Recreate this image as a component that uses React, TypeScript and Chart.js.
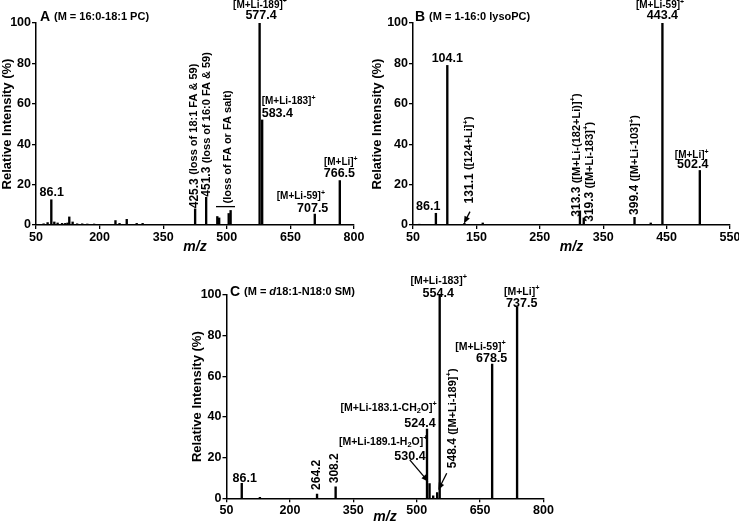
import React, { useEffect, useRef } from "react";
import { Chart, registerables } from "chart.js";
Chart.register(...registerables);

const FONT = '"Liberation Sans", Arial, Helvetica, sans-serif';

// ---------- data ----------
const yTicks = [0, 20, 40, 60, 80, 100];

// Panel A: 16:0-18:1 PC
const aTicksX = [50, 200, 350, 500, 650, 800];
const aMz = [68, 77.4, 86.1, 93.2, 101, 111.5, 119, 124.4, 128.5, 136.4, 147, 159, 171, 187, 237.4, 247, 264, 287.5, 301.5, 425.3, 451.3, 477.6, 482, 504.5, 509, 577.4, 583.4, 707.5, 766.5];
const aInt = [0.6, 1.2, 12.5, 1.5, 1, 0.8, 0.8, 1, 4, 1.5, 0.6, 0.6, 0.5, 0.5, 2.2, 0.8, 2.8, 0.8, 0.8, 8, 13.7, 4.2, 3.5, 5.7, 7.2, 100, 52, 5.4, 22];

// Panel B: 1-16:0 lysoPC
const bTicksX = [50, 150, 250, 350, 450, 550];
const bMz = [60, 86.1, 104.1, 131.1, 160, 313.3, 319.3, 399.4, 425, 443.4, 502.4];
const bInt = [0.4, 5.8, 79, 0.8, 1, 7, 3.5, 3.8, 1, 100, 27];

// Panel C: d18:1-N18:0 SM
const cTicksX = [50, 200, 350, 500, 650, 800];
const cMz = [86.1, 129, 264.2, 308.2, 524.4, 530.4, 539, 548.4, 554.4, 678.5, 737.5];
const cInt = [7.4, 0.5, 2.1, 5.7, 34, 7.3, 1.2, 2.8, 100, 66, 94.2];

type Part = [string, number];
type Ann = { x: number; y: number; parts: Part[]; align?: CanvasTextAlign; rot?: boolean };
type Arrow = { x1: number; y1: number; x2: number; y2: number; head: boolean };

const aAnns: Ann[] = [
  { x: 59.4, y: 103.1, parts: [["A ", 14], ["(M = 16:0-18:1 PC)", 11]], align: "left" },
  { x: 578.3, y: 109, parts: [["[M+Li-189]^+", 10]], align: "center" },
  { x: 580.7, y: 103.6, parts: [["577.4", 12.5]], align: "center" },
  { x: 582.3, y: 61.4, parts: [["[M+Li-183]^+", 10]], align: "left" },
  { x: 582.3, y: 55.3, parts: [["583.4", 12.5]], align: "left" },
  { x: 808.7, y: 31.0, parts: [["[M+Li]^+", 10]], align: "right" },
  { x: 802.4, y: 25.6, parts: [["766.5", 12.5]], align: "right" },
  { x: 731.6, y: 14.0, parts: [["[M+Li-59]^+", 10]], align: "right" },
  { x: 739.4, y: 8.3, parts: [["707.5", 12.5]], align: "right" },
  { x: 87, y: 16, parts: [["86.1", 12.5]], align: "center" },
  { x: 423.3, y: 8.3, parts: [["425.3 ", 12], ["(loss of 18:1 FA & 59)", 11]], rot: true },
  { x: 452.6, y: 14.0, parts: [["451.3 ", 12], ["(loss of 16:0 FA & 59)", 11]], rot: true },
  { x: 502.1, y: 10.7, parts: [["(loss of FA or FA salt)", 11]], rot: true },
];
const aArrows: Arrow[] = [{ x1: 474.5, y1: 9.1, x2: 519.3, y2: 9.1, head: false }];

const bAnns: Ann[] = [
  { x: 53.2, y: 103.1, parts: [["B ", 14], ["(M = 1-16:0 lysoPC)", 11]], align: "left" },
  { x: 439.6, y: 108.9, parts: [["[M+Li-59]^+", 10]], align: "center" },
  { x: 443.4, y: 103.6, parts: [["443.4", 12.5]], align: "center" },
  { x: 104.1, y: 82.5, parts: [["104.1", 12.5]], align: "center" },
  { x: 74.1, y: 9.1, parts: [["86.1", 12.5]], align: "center" },
  { x: 138.8, y: 10.7, parts: [["131.1 ", 12], ["([124+Li]^+)", 11]], rot: true },
  { x: 308.2, y: 4.1, parts: [["313.3 ", 12], ["([M+Li-(182+Li)]^+)", 11]], rot: true },
  { x: 329.2, y: 1.6, parts: [["319.3 ", 12], ["([M+Li-183]^+)", 11]], rot: true },
  { x: 400.2, y: 5, parts: [["399.4 ", 12], ["([M+Li-103]^+)", 11]], rot: true },
  { x: 489.6, y: 34.7, parts: [["[M+Li]^+", 10]], align: "center" },
  { x: 491.2, y: 29.7, parts: [["502.4", 12.5]], align: "center" },
];
const bArrows: Arrow[] = [{ x1: 139.9, y1: 6.6, x2: 130.4, y2: 0.8, head: true }];

const cAnns: Ann[] = [
  { x: 58.3, y: 101.6, parts: [["C ", 14], ["(M = ~d~18:1-N18:0 SM)", 11]], align: "left" },
  { x: 552, y: 107, parts: [["[M+Li-183]^+", 10.5]], align: "center" },
  { x: 551, y: 100.8, parts: [["554.4", 12.5]], align: "center" },
  { x: 748.4, y: 101.6, parts: [["[M+Li]^+", 10.5]], align: "center" },
  { x: 748.4, y: 95.9, parts: [["737.5", 12.5]], align: "center" },
  { x: 650.9, y: 74.6, parts: [["[M+Li-59]^+", 10.5]], align: "center" },
  { x: 677.3, y: 68.9, parts: [["678.5", 12.5]], align: "center" },
  { x: 433.7, y: 44.6, parts: [["[M+Li-183.1-CH_2O]^+", 10.5]], align: "center" },
  { x: 507.8, y: 37, parts: [["524.4", 12.5]], align: "center" },
  { x: 420.7, y: 27.8, parts: [["[M+Li-189.1-H_2O]^+", 10.5]], align: "center" },
  { x: 484.1, y: 20.5, parts: [["530.4", 12.5]], align: "center" },
  { x: 585.1, y: 14.8, parts: [["548.4 ", 12], ["([M+Li-189]^+)", 11]], rot: true },
  { x: 93, y: 9.8, parts: [["86.1", 12.5]], align: "center" },
  { x: 262.2, y: 4.1, parts: [["264.2", 12]], rot: true },
  { x: 306.7, y: 7.4, parts: [["308.2", 12]], rot: true },
];
const cArrows: Arrow[] = [
  { x1: 483.6, y1: 18.9, x2: 527.4, y2: 8.2, head: true },
  { x1: 571, y1: 12.3, x2: 551.1, y2: 4.1, head: true },
];

// ---------- rich text ----------
type Seg = { t: string; mode: number; it: boolean; size: number };
function parseRich(s: string, size: number): Seg[] {
  const out: Seg[] = [];
  let it = false;
  let buf = "";
  const flush = () => {
    if (buf) out.push({ t: buf, mode: 0, it, size });
    buf = "";
  };
  for (let i = 0; i < s.length; i++) {
    const ch = s[i];
    if (ch === "~") {
      flush();
      it = !it;
    } else if (ch === "^" || ch === "_") {
      flush();
      out.push({ t: s[i + 1], mode: ch === "^" ? 1 : 2, it, size });
      i++;
    } else buf += ch;
  }
  flush();
  return out;
}
function drawRich(ctx: CanvasRenderingContext2D, parts: Part[], x: number, y: number, align: CanvasTextAlign) {
  const segs: Seg[] = [];
  for (const [s, size] of parts) segs.push(...parseRich(s, size));
  const fontOf = (sg: Seg) => `${sg.it ? "italic " : ""}bold ${sg.mode ? sg.size * 0.7 : sg.size}px ${FONT}`;
  let total = 0;
  const widths = segs.map((sg) => {
    ctx.font = fontOf(sg);
    const w = ctx.measureText(sg.t).width;
    total += w;
    return w;
  });
  let cx = align === "center" ? x - total / 2 : align === "right" ? x - total : x;
  ctx.textAlign = "left";
  ctx.textBaseline = "middle";
  segs.forEach((sg, i) => {
    ctx.font = fontOf(sg);
    const dy = sg.mode === 1 ? -sg.size * 0.33 : sg.mode === 2 ? sg.size * 0.3 : 0;
    ctx.fillText(sg.t, cx, y + dy);
    cx += widths[i];
  });
}

type PanelCfg = {
  left: number; top: number; w: number; h: number;
  pad: { left: number; top: number; right: number; bottom: number };
  yAxisW: number; xAxisH: number; yTitlePad: number; xTitlePad: number;
  xMin: number; xMax: number; xTicks: number[];
  mz: number[]; int: number[]; anns: Ann[]; arrows: Arrow[];
};

const panels: PanelCfg[] = [
  {
    left: 0, top: 0, w: 370, h: 260,
    pad: { left: 0, top: 23, right: 16, bottom: 0 },
    yAxisW: 36, xAxisH: 35, yTitlePad: 0, xTitlePad: 4,
    xMin: 50, xMax: 800, xTicks: aTicksX, mz: aMz, int: aInt, anns: aAnns, arrows: aArrows,
  },
  {
    left: 370, top: 0, w: 369, h: 260,
    pad: { left: 0, top: 23, right: 9, bottom: 0 },
    yAxisW: 43, xAxisH: 35, yTitlePad: 0, xTitlePad: 4,
    xMin: 50, xMax: 550, xTicks: bTicksX, mz: bMz, int: bInt, anns: bAnns, arrows: bArrows,
  },
  {
    left: 180, top: 260, w: 380, h: 266,
    pad: { left: 0, top: 35, right: 16.5, bottom: 0 },
    yAxisW: 46.5, xAxisH: 27.7, yTitlePad: 9.2, xTitlePad: 0,
    xMin: 50, xMax: 800, xTicks: cTicksX, mz: cMz, int: cInt, anns: cAnns, arrows: cArrows,
  },
];

function makeAnnPlugin(p: PanelCfg) {
  return {
    id: "annots",
    afterDatasetsDraw(chart: any) {
      const ctx: CanvasRenderingContext2D = chart.ctx;
      const xs = chart.scales.x;
      const ys = chart.scales.y;
      ctx.save();
      ctx.fillStyle = "#000";
      ctx.strokeStyle = "#000";
      for (const a of p.anns) {
        const px = xs.getPixelForValue(a.x);
        const py = ys.getPixelForValue(a.y);
        if (a.rot) {
          ctx.save();
          ctx.translate(px, py);
          ctx.rotate(-Math.PI / 2);
          drawRich(ctx, a.parts, 0, 0, "left");
          ctx.restore();
        } else {
          drawRich(ctx, a.parts, px, py, a.align || "center");
        }
      }
      for (const ar of p.arrows) {
        const x1 = xs.getPixelForValue(ar.x1), y1 = ys.getPixelForValue(ar.y1);
        const x2 = xs.getPixelForValue(ar.x2), y2 = ys.getPixelForValue(ar.y2);
        ctx.lineWidth = 1.3;
        const ang = Math.atan2(y2 - y1, x2 - x1);
        const hl = ar.head ? 7 : 0;
        ctx.beginPath();
        ctx.moveTo(x1, y1);
        ctx.lineTo(x2 - Math.cos(ang) * hl * 0.8, y2 - Math.sin(ang) * hl * 0.8);
        ctx.stroke();
        if (ar.head) {
          ctx.beginPath();
          ctx.moveTo(x2, y2);
          ctx.lineTo(x2 - hl * Math.cos(ang) + 3 * Math.sin(ang), y2 - hl * Math.sin(ang) - 3 * Math.cos(ang));
          ctx.lineTo(x2 - hl * Math.cos(ang) - 3 * Math.sin(ang), y2 - hl * Math.sin(ang) + 3 * Math.cos(ang));
          ctx.closePath();
          ctx.fill();
        }
      }
      ctx.restore();
    },
  };
}

function Panel({ p }: { p: PanelCfg }) {
  const ref = useRef<HTMLCanvasElement>(null);
  useEffect(() => {
    const tickFont = { family: FONT, weight: "bold" as const, size: 12.5 };
    const chart = new Chart(ref.current as HTMLCanvasElement, {
      type: "bar",
      data: {
        datasets: [
          {
            data: p.mz.map((m, i) => ({ x: m, y: p.int[i] })) as any,
            backgroundColor: "#000",
            borderWidth: 0,
            barThickness: 1.7,
          },
        ],
      },
      options: {
        animation: false,
        responsive: false,
        devicePixelRatio: 1,
        layout: { padding: p.pad },
        plugins: { legend: { display: false }, tooltip: { enabled: false } },
        scales: {
          x: {
            type: "linear",
            min: p.xMin,
            max: p.xMax,
            offset: false,
            afterBuildTicks: (s: any) => {
              s.ticks = p.xTicks.map((v) => ({ value: v }));
            },
            afterFit: (s: any) => {
              s.height = p.xAxisH;
              s.paddingLeft = 0;
              s.paddingRight = 0;
            },
            ticks: { autoSkip: false, maxRotation: 0, minRotation: 0, color: "#000", font: tickFont, padding: 1 },
            grid: { offset: false, drawOnChartArea: false, drawTicks: true, tickLength: 4, color: "#000", lineWidth: 1.3 },
            border: { display: true, color: "#000", width: 1.5 },
            title: {
              display: true,
              text: "m/z",
              color: "#000",
              font: { family: FONT, weight: "bold", style: "italic", size: 14 },
              padding: { top: 0, bottom: p.xTitlePad },
            },
          },
          y: {
            type: "linear",
            min: 0,
            max: 100,
            afterBuildTicks: (s: any) => {
              s.ticks = yTicks.map((v) => ({ value: v }));
            },
            afterFit: (s: any) => {
              s.width = p.yAxisW;
              s.paddingTop = 0;
              s.paddingBottom = 0;
            },
            ticks: { autoSkip: false, color: "#000", font: tickFont, padding: 1 },
            grid: { drawOnChartArea: false, drawTicks: true, tickLength: 4, color: "#000", lineWidth: 1.3 },
            border: { display: true, color: "#000", width: 1.5 },
            title: {
              display: true,
              text: "Relative Intensity (%)",
              color: "#000",
              font: { family: FONT, weight: "bold", size: 13 },
              padding: { top: p.yTitlePad, bottom: 0 },
            },
          },
        },
      } as any,
      plugins: [makeAnnPlugin(p)],
    });
    return () => chart.destroy();
  }, [p]);
  return (
    <canvas
      ref={ref}
      width={p.w}
      height={p.h}
      style={{ position: "absolute", left: p.left, top: p.top, width: p.w, height: p.h }}
    />
  );
}

export default function App() {
  return (
    <div style={{ position: "absolute", left: 0, top: 0, width: 739, height: 526, background: "#fff" }}>
      {panels.map((p, i) => (
        <Panel key={i} p={p} />
      ))}
    </div>
  );
}
